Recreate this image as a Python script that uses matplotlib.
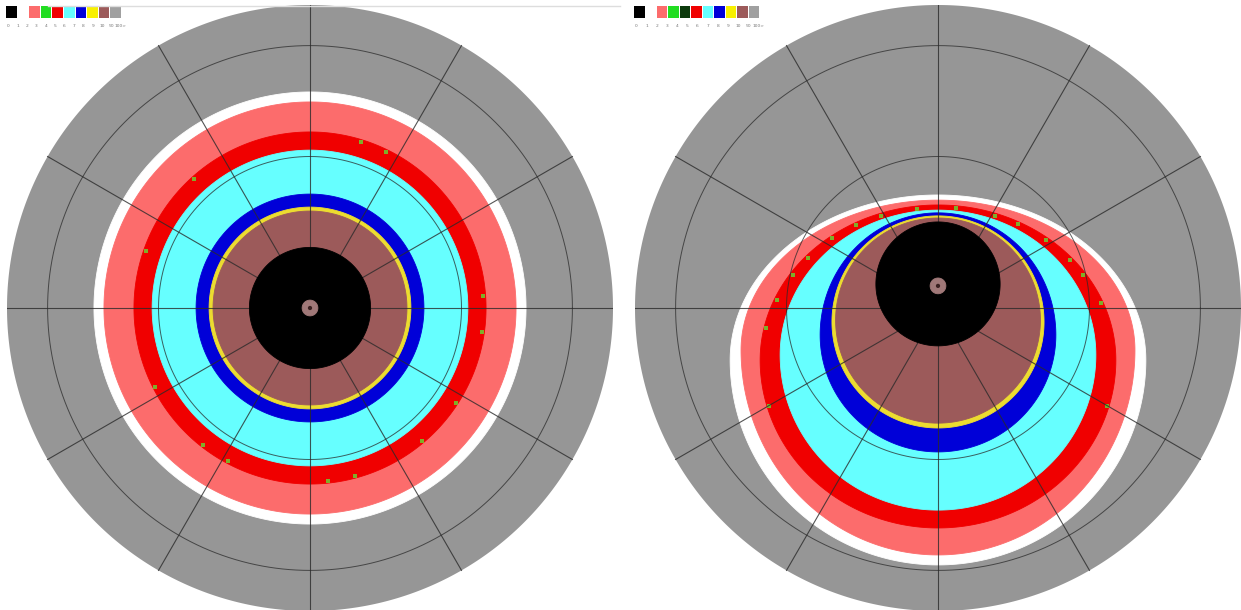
# Two sky-view polar maps (orthographic), side by side

import matplotlib.pyplot as plt
from matplotlib.patches import Polygon, Rectangle
import numpy as np

# class colours, outermost ring first
ring_names = ['white', 'salmon', 'red', 'cyan', 'blue', 'yellow', 'brown', 'black', 'pink']
ring_colors = ['#ffffff', '#fc6c6c', '#f00000', '#66ffff', '#0000d8', '#ecdc30', '#9c5a5a', '#000000', '#a07878']

# ring outlines as fractions of the horizon radius (y up):
# half width, row of widest point, top edge, bottom edge
left_rx = [0.713, 0.680, 0.581, 0.521, 0.376, 0.333, 0.320, 0.200, 0.026]
left_mid = [0, 0, 0, 0, 0, 0, 0, 0, 0]
left_top = [0.713, 0.680, 0.581, 0.521, 0.376, 0.333, 0.320, 0.200, 0.026]
left_bot = [-0.713, -0.680, -0.581, -0.521, -0.376, -0.333, -0.320, -0.200, -0.026]

right_rx = [0.686, 0.650, 0.587, 0.521, 0.389, 0.350, 0.338, 0.205, 0.026]
right_mid = [-0.172, -0.139, -0.172, -0.155, -0.089, -0.046, -0.040, 0.079, 0.073]
right_top = [0.373, 0.356, 0.340, 0.323, 0.314, 0.304, 0.297, 0.284, 0.099]
right_bot = [-0.848, -0.815, -0.726, -0.667, -0.475, -0.396, -0.380, -0.125, 0.047]

# scattered green cells on the outer edge of the red ring (direction, degrees)
left_green = [4, 64, 73, 132, 161, 207, 232, 242, 276, 285, 310, 327, 352]
right_green = [22, 34, 41, 52, 63, 71, 84, 97, 109, 118, 127, 138, 146, 157, 168, 196, 344]

# grid
azimuths = list(range(0, 360, 30))
elevations = [30, 60]

# legend bar
left_legend = ['#000000', '#ffffff', '#fc6c6c', '#22dd22', '#f00000', '#66ffff', '#0000d8', '#f8f000', '#9c5a5a', '#a0a0a0']
right_legend = ['#000000', '#ffffff', '#fc6c6c', '#22dd22', '#0c3a0c', '#f00000', '#66ffff', '#0000d8', '#f8f000', '#9c5a5a', '#a0a0a0']
legend_labels = ['0', '1', '2', '3', '4', '5', '6', '7', '8', '9', '10', '50', '100>']

W, H = 1241, 610
R = 303
fig = plt.figure(figsize=(W / 100, H / 100), dpi=100)
t = np.linspace(0, 2 * np.pi, 721)


def outline(rx, mid, top, bot, ang=t):
    s = np.sin(ang)
    y = np.where(s > 0, mid + (top - mid) * s, mid + (mid - bot) * s)
    return np.column_stack([rx * np.cos(ang), y])


def draw_map(cx, cy, rx, mid, top, bot, green):
    ax = fig.add_axes([(cx - R) / W, 1 - (cy + R) / H, 2 * R / W, 2 * R / H])
    ax.set_xlim(-1, 1)
    ax.set_ylim(-1, 1)
    ax.axis('off')
    ax.add_patch(Polygon(outline(1, 0, 1, -1), color='#969696', lw=0, zorder=1))
    for i in range(len(rx)):
        # black disc and zenith dot sit above the grid, the rest below
        z = 2 + i * 0.01 if ring_names[i] not in ('black', 'pink') else 6 + i * 0.01
        ax.add_patch(Polygon(outline(rx[i], mid[i], top[i], bot[i]),
                             color=ring_colors[i], lw=0.6, zorder=z))
    # hole in the middle of the zenith dot
    ax.add_patch(Polygon(outline(0.007, mid[-1], mid[-1] + 0.007, mid[-1] - 0.007),
                         color='#3a2020', lw=0, zorder=7))
    # green cells just inside the red edge
    k = ring_names.index('red')
    pts = outline(rx[k] - 0.008, mid[k], top[k] - 0.008, bot[k] + 0.008, np.radians(green))
    ax.scatter(pts[:, 0], pts[:, 1], s=5, color='#7fae2a', marker='s', lw=0, zorder=4)
    for el in elevations:
        rr = np.cos(np.radians(el))
        ax.plot(rr * np.cos(t), rr * np.sin(t), color='#2a2a2a', lw=0.7, alpha=0.75, zorder=5)
    for az in azimuths:
        a = np.radians(az)
        ax.plot([0, np.sin(a)], [0, np.cos(a)], color='#2a2a2a', lw=0.8, alpha=0.8, zorder=5)
    return ax


draw_map(310, 308, left_rx, left_mid, left_top, left_bot, left_green)
draw_map(938, 308, right_rx, right_mid, right_top, right_bot, right_green)


def draw_legend(x0, x1, colors):
    lax = fig.add_axes([x0 / W, 1 - 30 / H, (x1 - x0) / W, 25 / H])
    lax.set_xlim(0, len(colors))
    lax.set_ylim(0, 25)
    lax.axis('off')
    for i, c in enumerate(colors):
        lax.add_patch(Rectangle((i, 12), 0.92, 12, color=c, lw=0))
    xs = np.linspace(0.2, len(colors) - 0.1, len(legend_labels))
    for x, lab in zip(xs, legend_labels):
        lax.text(x, 4, lab, fontsize=3.2, color='#777777', ha='center', va='center')


draw_legend(6, 122, left_legend)
draw_legend(634, 760, right_legend)

# faint frame line along the top
fig.add_artist(plt.Line2D([48 / W, 620 / W], [1 - 6 / H, 1 - 6 / H], color='#dddddd', lw=1))

fig.savefig('out.png', dpi=100)
